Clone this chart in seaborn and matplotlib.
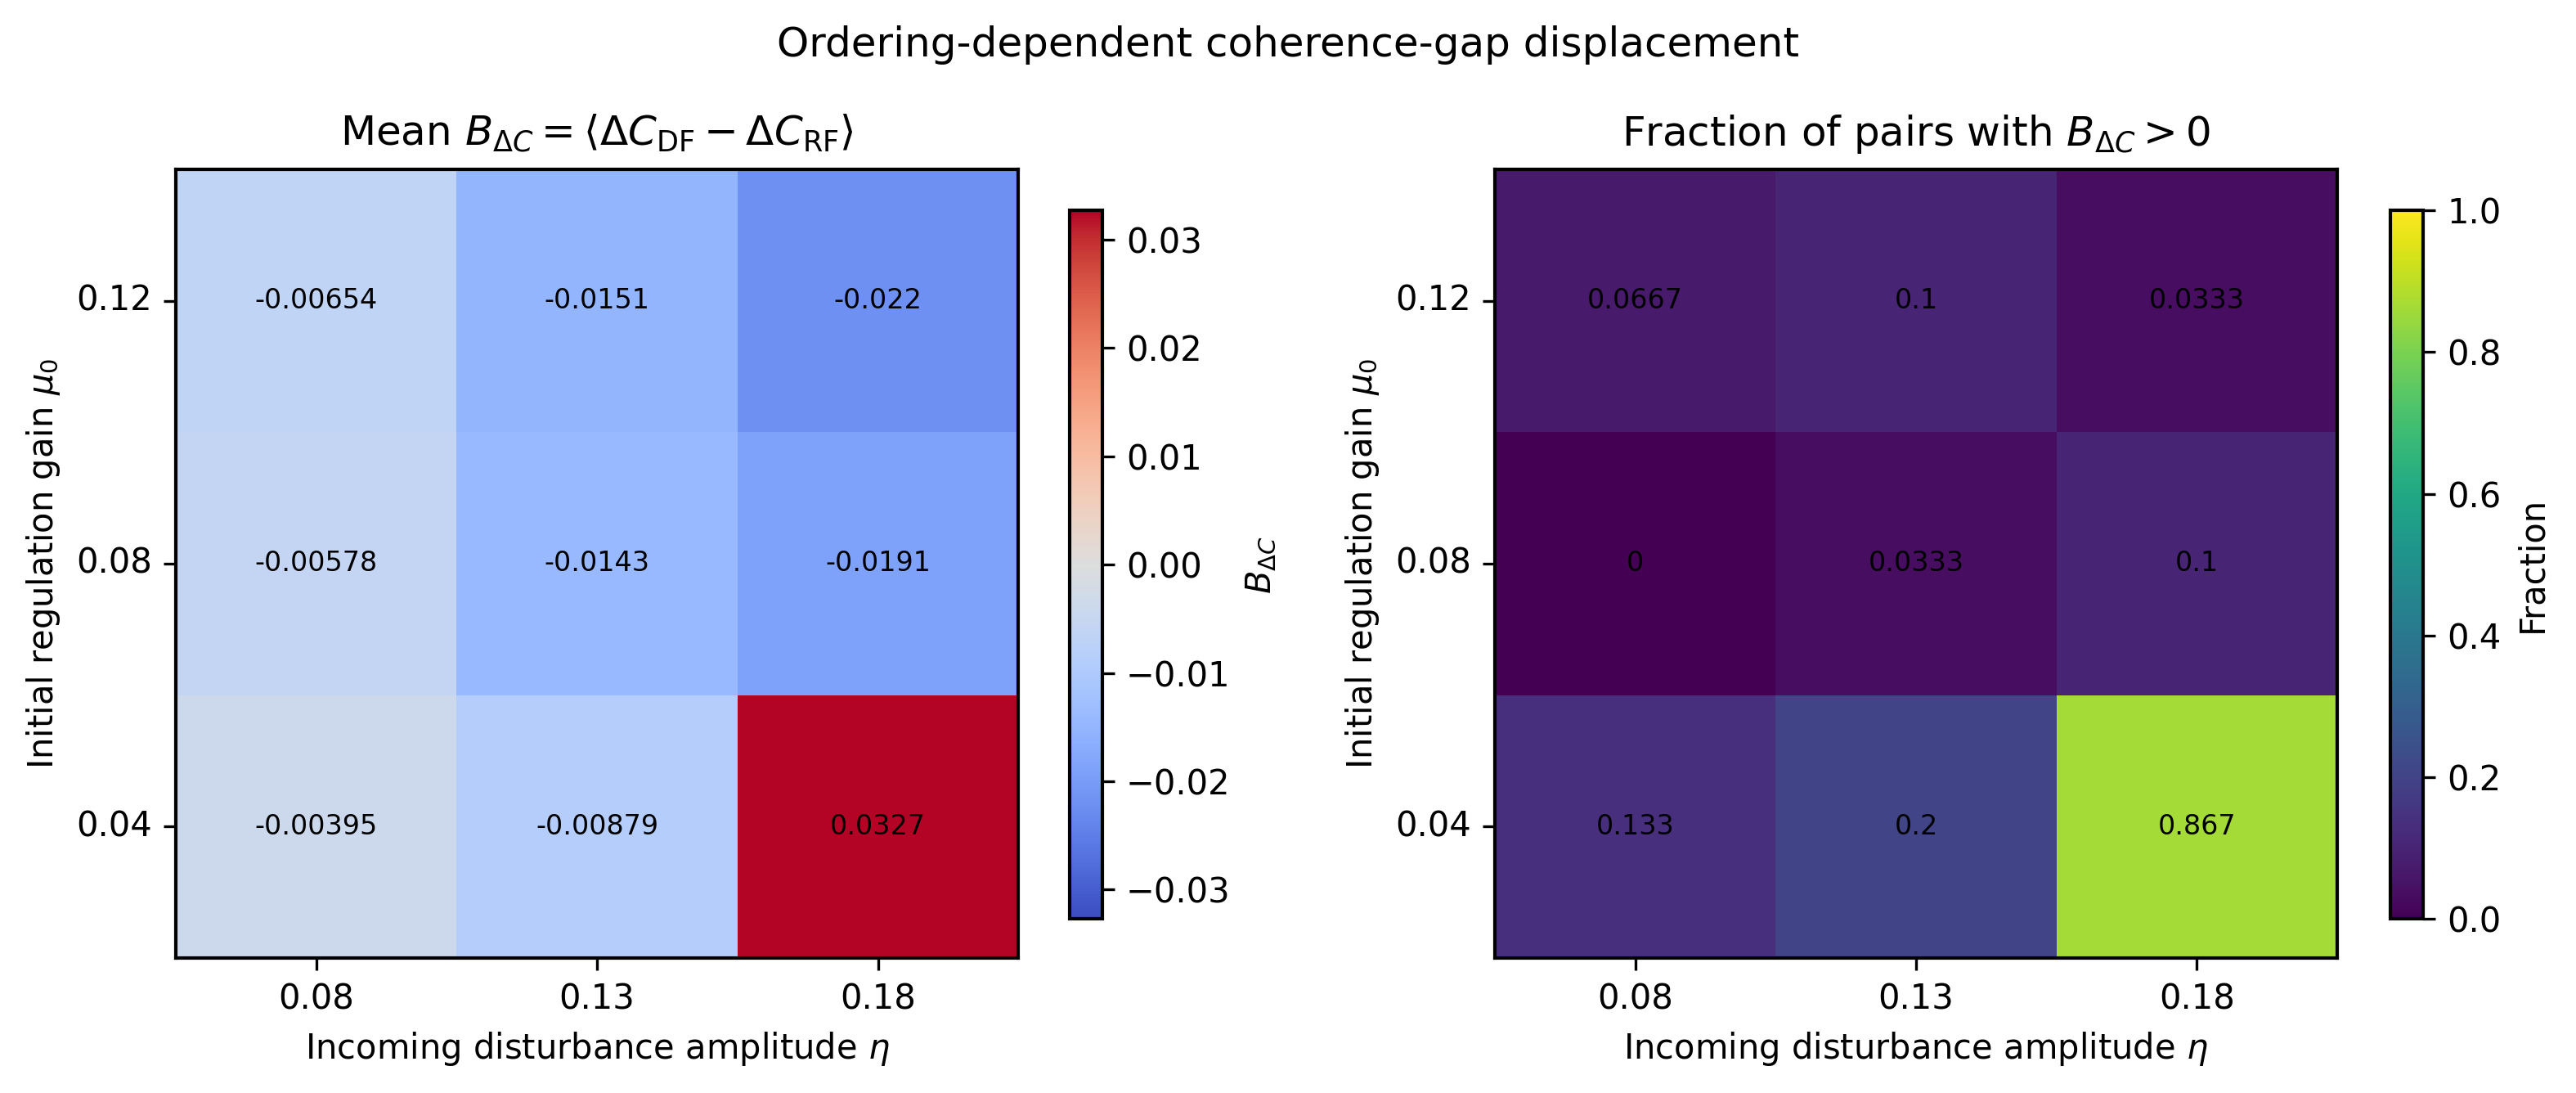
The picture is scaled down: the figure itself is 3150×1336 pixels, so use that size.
import matplotlib as mpl
import matplotlib.pyplot as plt
import seaborn as sns
import pandas as pd
import numpy as np

# Heatmaps of mean coherence-gap displacement and fraction of positive pairs

eta_labels = ['0.08', '0.13', '0.18']
mu_labels = ['0.12', '0.08', '0.04']   # top to bottom

mean_b = [
    [-0.00654, -0.0151, -0.022],
    [-0.00578, -0.0143, -0.0191],
    [-0.00395, -0.00879, 0.0327],
]
frac_pos = [
    [0.0667, 0.1, 0.0333],
    [0.0, 0.0333, 0.1],
    [0.133, 0.2, 0.867],
]

mpl.rcParams.update({
    'font.family': 'DejaVu Sans',
    'font.size': 10,
})

df_mean = pd.DataFrame(mean_b, index=mu_labels, columns=eta_labels)
df_frac = pd.DataFrame(frac_pos, index=mu_labels, columns=eta_labels)

fig = plt.figure(figsize=(10.5, 1336 / 300), dpi=300)
ax1 = fig.add_axes([0.0683, 0.1235, 0.327, 0.7216])
cax1 = fig.add_axes([0.4152, 0.1594, 0.0127, 0.648])
ax2 = fig.add_axes([0.5803, 0.1235, 0.327, 0.7216])
cax2 = fig.add_axes([0.9279, 0.1594, 0.0127, 0.648])

vlim = np.abs(df_mean.values).max()
sns.heatmap(df_mean, ax=ax1, cbar_ax=cax1, cmap='coolwarm', vmin=-vlim, vmax=vlim,
            annot=True, fmt='.3g', annot_kws={'fontsize': 8, 'color': 'black'},
            cbar_kws={'label': r'$B_{\Delta C}$'})
sns.heatmap(df_frac, ax=ax2, cbar_ax=cax2, cmap='viridis', vmin=0, vmax=1,
            annot=True, fmt='.3g', annot_kws={'fontsize': 8, 'color': 'black'},
            cbar_kws={'label': 'Fraction'})

for ax, cax in [(ax1, cax1), (ax2, cax2)]:
    for s in ax.spines.values():
        s.set_visible(True)
        s.set_linewidth(1.0)
        s.set_color('black')
    ax.tick_params(length=3.5, width=0.8)
    ax.set_xticklabels(eta_labels, rotation=0)
    ax.set_yticklabels(mu_labels, rotation=0)
    ax.set_xlabel(r'Incoming disturbance amplitude $\eta$')
    ax.set_ylabel(r'Initial regulation gain $\mu_0$')
    cax.tick_params(length=3.5, width=0.8)
    cb = ax.collections[0].colorbar
    cb.outline.set_visible(True)
    cb.outline.set_linewidth(1.0)
    cb.outline.set_edgecolor('black')

ax1.set_title(r'Mean $B_{\Delta C} = \langle \Delta C_{\mathrm{DF}} - \Delta C_{\mathrm{RF}} \rangle$',
              fontsize=12, pad=7)
ax2.set_title(r'Fraction of pairs with $B_{\Delta C} > 0$', fontsize=12, pad=7)
cax1.set_yticks([-0.03, -0.02, -0.01, 0.0, 0.01, 0.02, 0.03])
cax2.set_yticks([0, 0.2, 0.4, 0.6, 0.8, 1.0])

fig.suptitle('Ordering-dependent coherence-gap displacement', fontsize=12, y=0.977)

fig.savefig('out.png', dpi=300)
